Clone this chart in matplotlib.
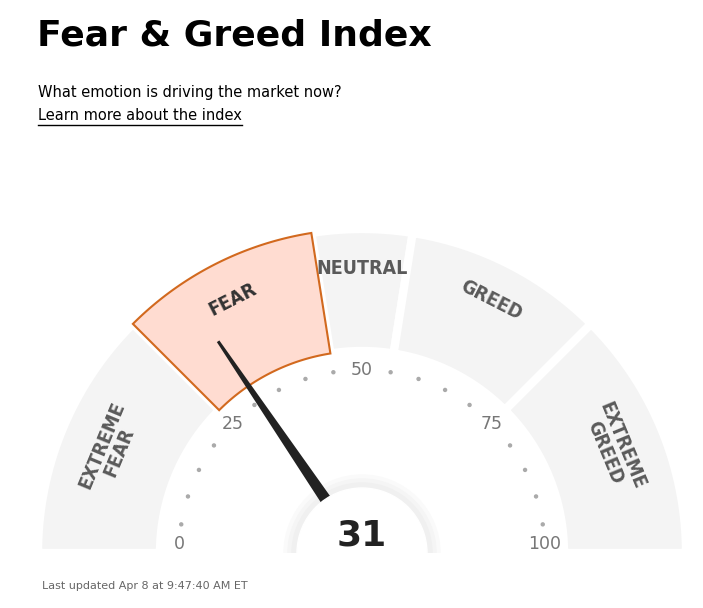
import numpy as np
import matplotlib.pyplot as plt
from matplotlib.patches import Polygon, Circle

# DATA
segment_names = ['EXTREME\nFEAR', 'FEAR', 'NEUTRAL', 'GREED', 'EXTREME\nGREED']
segment_bounds = [0, 25, 45, 55, 75, 100]
tick_labels = [0, 25, 50, 75, 100]
score = 31
active = 1

W, H = 703, 608
cx, cy = 362, 553
r_in, r_out = 202, 324

fig = plt.figure(figsize=(W / 100, H / 100), dpi=100)
ax = fig.add_axes([0, 0, 1, 1])
ax.set_xlim(0, W)
ax.set_ylim(H, 0)
ax.set_aspect('equal')
ax.axis('off')

def ang(v):
    return np.radians(180 - v * 1.8)

def pt(r, a):
    return cx + r * np.cos(a), cy - r * np.sin(a)

def band(r0, r1, v0, v1):
    a = np.linspace(ang(v0), ang(v1), 80)
    outer = [pt(r1, t) for t in a]
    inner = [pt(r0, t) for t in a[::-1]]
    return outer + inner

for i, name in enumerate(segment_names):
    v0, v1 = segment_bounds[i], segment_bounds[i + 1]
    if i == active:
        p = Polygon(band(r_in, r_out, v0, v1), closed=True, fc='#ffdcd1',
                    ec='#d2691e', lw=1.5, zorder=3)
    else:
        p = Polygon(band(r_in, r_out, v0, v1), closed=True, fc='#f4f4f4',
                    ec='white', lw=6, zorder=2)
    ax.add_patch(p)
    am = ang((v0 + v1) / 2)
    x, y = pt(284 if '\n' not in name else 272, am)
    ax.text(x, y, name, rotation=np.degrees(am) - 90, ha='center', va='center',
            fontsize=14, fontweight='bold', fontstretch='condensed',
            color='#5a5a5a' if i != active else '#333333',
            family=['Liberation Sans Narrow', 'DejaVu Sans'], linespacing=0.95, zorder=4)

# ticks and dots
for v in range(0, 101, 5):
    x, y = pt(183, ang(v))
    if v in tick_labels:
        if v in (0, 100):
            y -= 9
        ax.text(x, y, str(v), ha='center', va='center', fontsize=12.5, color='#777777', zorder=8)
    else:
        ax.add_patch(Circle((x, y), 1.5, color='#aaaaaa', zorder=4))

# needle
a = ang(score)
tip = pt(256, a)
perp = a + np.pi / 2
base1 = (cx + 7 * np.cos(perp), cy - 7 * np.sin(perp))
base2 = (cx - 7 * np.cos(perp), cy + 7 * np.sin(perp))
tip1 = (tip[0] + 1.5 * np.cos(perp), tip[1] - 1.5 * np.sin(perp))
tip2 = (tip[0] - 1.5 * np.cos(perp), tip[1] + 1.5 * np.sin(perp))
ax.add_patch(Polygon([base1, tip1, tip2, base2], closed=True, fc='#222222', zorder=5))

# centre disc
for k, c in enumerate(['#fafafa', '#f5f5f5', '#f0f0f0']):
    ax.add_patch(Circle((cx, cy), 78 - k * 4, color=c, zorder=4.5))
ax.add_patch(Circle((cx, cy), 65, color='white', zorder=6))
ax.add_patch(Polygon([(0, cy), (W, cy), (W, H), (0, H)], fc='white', ec='none', zorder=7))
ax.text(cx, 536, str(score), ha='center', va='center', fontsize=26,
        fontweight='bold', color='#222222', zorder=8)

# texts
ax.text(37, 36, 'Fear & Greed Index', fontsize=26, fontweight='bold', va='center', color='black')
ax.text(38, 93, 'What emotion is driving the market now?', fontsize=10.5, va='center')
ax.text(38, 116, 'Learn more about the index', fontsize=10.5, va='center')
ax.plot([38, 242], [125, 125], color='black', lw=1)
ax.text(42, 586, 'Last updated Apr 8 at 9:47:40 AM ET', fontsize=8, va='center',
        color='#666666', zorder=8)

fig.savefig('out.png', dpi=100)
